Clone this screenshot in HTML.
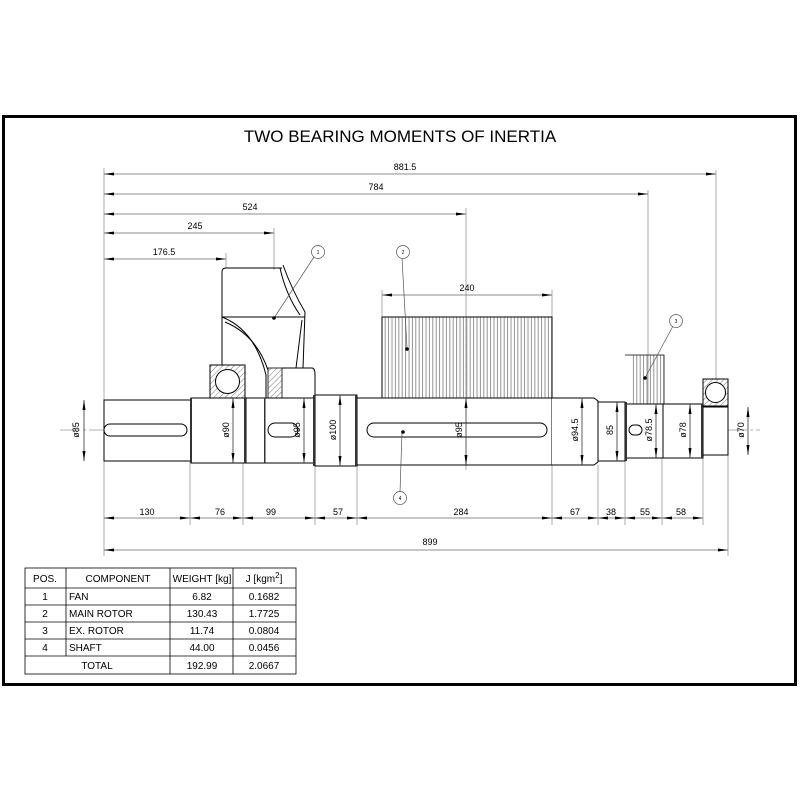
<!DOCTYPE html>
<html><head><meta charset="utf-8"><style>html,body{margin:0;padding:0;background:#fff}svg{display:block}</style></head>
<body>
<svg width="800" height="800" viewBox="0 0 800 800" xmlns="http://www.w3.org/2000/svg" font-family="Liberation Sans, sans-serif">
<defs>
<marker id="a" viewBox="0 0 10 4" refX="10" refY="2" markerWidth="10" markerHeight="4" orient="auto-start-reverse" markerUnits="userSpaceOnUse"><path d="M0,0.5 L10,2 L0,3.5z" fill="#000"/></marker>
<pattern id="vh" width="3.4" height="10" patternUnits="userSpaceOnUse"><line x1="1" y1="0" x2="1" y2="10" stroke="#666" stroke-width="0.7"/></pattern>
<pattern id="dh" width="4" height="4" patternUnits="userSpaceOnUse" patternTransform="rotate(45)"><line x1="0" y1="0" x2="0" y2="4" stroke="#555" stroke-width="0.8"/></pattern>
</defs>
<rect x="3.5" y="116.5" width="792" height="568" fill="none" stroke="#000" stroke-width="3"/>
<text x="400" y="142" font-size="17" text-anchor="middle">TWO BEARING MOMENTS OF INERTIA</text>

<g stroke="#999" stroke-width="0.8" fill="none">
<line x1="104" y1="168" x2="104" y2="556"/>
<line x1="716" y1="170" x2="716" y2="380"/>
<line x1="648" y1="190" x2="648" y2="405"/>
<line x1="466" y1="208" x2="466" y2="470"/>
<line x1="274" y1="228" x2="274" y2="270"/>
<line x1="226" y1="253" x2="226" y2="268"/>
<line x1="382" y1="290" x2="382" y2="317"/>
<line x1="552" y1="290" x2="552" y2="317"/>
<line x1="728" y1="455" x2="728" y2="556"/>
<line x1="190" y1="462" x2="190" y2="525"/><line x1="243" y1="462" x2="243" y2="525"/>
<line x1="315" y1="466" x2="315" y2="525"/><line x1="357" y1="466" x2="357" y2="525"/>
<line x1="552" y1="465" x2="552" y2="525"/><line x1="598" y1="465" x2="598" y2="525"/>
<line x1="625" y1="461" x2="625" y2="525"/><line x1="662" y1="458" x2="662" y2="525"/>
<line x1="703" y1="458" x2="703" y2="525"/>
<line x1="60" y1="430" x2="760" y2="430" stroke-dasharray="20,3,3,3"/>
</g>
<g stroke="#666" stroke-width="0.8" marker-start="url(#a)" marker-end="url(#a)">
<line x1="104" y1="174" x2="716" y2="174"/>
<line x1="104" y1="194" x2="648" y2="194"/>
<line x1="104" y1="214" x2="466" y2="214"/>
<line x1="104" y1="233" x2="274" y2="233"/>
<line x1="104" y1="259" x2="226" y2="259"/>
<line x1="382" y1="295" x2="552" y2="295"/>
<line x1="104" y1="518" x2="190" y2="518"/><line x1="190" y1="518" x2="243" y2="518"/>
<line x1="243" y1="518" x2="315" y2="518"/><line x1="315" y1="518" x2="357" y2="518"/>
<line x1="357" y1="518" x2="552" y2="518"/><line x1="552" y1="518" x2="598" y2="518"/>
<line x1="598" y1="518" x2="625" y2="518"/><line x1="625" y1="518" x2="662" y2="518"/>
<line x1="662" y1="518" x2="703" y2="518"/>
<line x1="104" y1="550" x2="728" y2="550"/>
</g>
<g font-size="9" text-anchor="middle">
<text x="405" y="170">881.5</text><text x="376" y="190">784</text><text x="250" y="210">524</text>
<text x="195" y="229">245</text><text x="164" y="255">176.5</text><text x="467" y="291">240</text>
<text x="147" y="515">130</text><text x="220" y="515">76</text><text x="271" y="515">99</text>
<text x="338" y="515">57</text><text x="461" y="515">284</text><text x="575" y="515">67</text>
<text x="611" y="515">38</text><text x="645" y="515">55</text><text x="681" y="515">58</text>
<text x="430" y="545">899</text>
</g>

<!-- rotors -->
<rect x="382" y="317" width="170" height="81" fill="url(#vh)" stroke="#000" stroke-width="1"/>
<line x1="466" y1="317" x2="466" y2="398" stroke="#999" stroke-width="0.8" stroke-dasharray="6,3"/>
<rect x="632" y="355" width="32" height="49" fill="url(#vh)" stroke="none"/>
<path d="M625,355 H664 V404" fill="none" stroke="#000" stroke-width="0.8"/>

<!-- fan -->
<g fill="none" stroke="#000" stroke-width="1">
<path d="M222,365 V272 Q222,268 226,268 H282"/>
<path d="M283,265 Q292,290 305,312 L303,368"/>
<path d="M280,268 Q286,295 300,315"/>
<path d="M222,317 H305"/>
<path d="M222,317 Q255,330 266,375 V398"/>
<path d="M225,322 Q256,335 268,370"/>
<path d="M296,368 L302,320"/>
<path d="M282,368 H312 Q315,368 315,375 V398"/>
</g>
<rect x="268" y="368" width="14" height="30" fill="url(#dh)" stroke="#000" stroke-width="0.8"/>

<!-- bearings -->
<rect x="210" y="365" width="35" height="33" fill="url(#dh)" stroke="#000" stroke-width="1"/>
<circle cx="227.5" cy="381.5" r="12" fill="#fff" stroke="#000"/>
<rect x="703" y="379" width="25" height="27" fill="url(#dh)" stroke="#000" stroke-width="1"/>
<circle cx="715.5" cy="392.5" r="10" fill="#fff" stroke="#000"/>

<!-- shaft -->
<g fill="#fff" stroke="#000" stroke-width="1">
<rect x="104" y="400" width="87" height="61"/>
<rect x="191" y="398" width="55" height="65"/>
<rect x="246" y="398" width="19" height="65"/>
<rect x="265" y="398" width="50" height="65"/>
<rect x="315" y="395" width="42" height="71"/>
<rect x="357" y="398" width="195" height="67"/>
<path d="M552,398 H594 L598,401 V462 L594,465 H552"/>
<rect x="598" y="402" width="27" height="59"/>
<rect x="625" y="404" width="38" height="54"/>
<rect x="663" y="404" width="40" height="54"/>
<rect x="703" y="407" width="25" height="48"/>
<rect x="104" y="424" width="83" height="12" rx="6"/>
<rect x="268" y="423" width="30" height="14" rx="7"/>
<rect x="367" y="423" width="180" height="14" rx="7"/>
<rect x="629" y="425" width="13" height="10" rx="5"/>
</g>
<g fill="#333">
<rect x="190" y="398" width="2" height="65"/><rect x="244" y="398" width="2" height="65"/>
<rect x="313" y="395" width="2" height="71"/><rect x="355" y="395" width="2" height="71"/>
<rect x="625" y="402" width="2" height="59"/><rect x="701" y="404" width="2" height="54"/>
<rect x="264" y="398" width="1.5" height="65"/>
</g>
<!-- diameter dims -->
<g stroke="#333" stroke-width="0.8" marker-start="url(#a)" marker-end="url(#a)">
<line x1="84" y1="400" x2="84" y2="461"/><line x1="233" y1="398" x2="233" y2="463"/>
<line x1="304" y1="398" x2="304" y2="463"/><line x1="340" y1="395" x2="340" y2="466"/>
<line x1="466" y1="398" x2="466" y2="465"/><line x1="582" y1="398" x2="582" y2="465"/>
<line x1="617" y1="402" x2="617" y2="461"/><line x1="656" y1="404" x2="656" y2="458"/>
<line x1="690" y1="404" x2="690" y2="458"/><line x1="748" y1="407" x2="748" y2="455"/>
</g>
<g font-size="9" text-anchor="middle">
<text transform="translate(79,430) rotate(-90)">ø85</text>
<text transform="translate(229,430) rotate(-90)">ø90</text>
<text transform="translate(300,430) rotate(-90)">ø95</text>
<text transform="translate(336,430) rotate(-90)">ø100</text>
<text transform="translate(462,430) rotate(-90)">ø95</text>
<text transform="translate(578,430) rotate(-90)">ø94.5</text>
<text transform="translate(613,430) rotate(-90)">85</text>
<text transform="translate(652,430) rotate(-90)">ø78.5</text>
<text transform="translate(686,430) rotate(-90)">ø78</text>
<text transform="translate(744,430) rotate(-90)">ø70</text>
</g>

<!-- balloons -->
<g stroke="#555" stroke-width="0.7" fill="none">
<line x1="314" y1="257" x2="274" y2="318"/>
<line x1="402" y1="258" x2="407" y2="348"/>
<line x1="673" y1="326" x2="645" y2="378"/>
<line x1="400" y1="492" x2="402" y2="432"/>
<circle cx="318" cy="252" r="6.5" fill="#fff"/><circle cx="403" cy="252" r="6.5" fill="#fff"/>
<circle cx="676" cy="321" r="6.5" fill="#fff"/><circle cx="400" cy="498" r="6.5" fill="#fff"/>
</g>
<g fill="#000"><circle cx="274" cy="318" r="1.8"/><circle cx="407" cy="349" r="1.8"/><circle cx="645" cy="378" r="1.8"/><circle cx="403" cy="432" r="1.8"/></g>
<g font-size="5" text-anchor="middle"><text x="318" y="254">1</text><text x="403" y="254">2</text><text x="676" y="323">3</text><text x="400" y="500">4</text></g>

<!-- table -->
<g stroke="#000" stroke-width="0.8" fill="none">
<rect x="25" y="568" width="271" height="106"/>
<line x1="25" y1="588" x2="296" y2="588"/><line x1="25" y1="605" x2="296" y2="605"/>
<line x1="25" y1="622" x2="296" y2="622"/><line x1="25" y1="639" x2="296" y2="639"/>
<line x1="25" y1="656" x2="296" y2="656"/>
<line x1="66" y1="568" x2="66" y2="656"/><line x1="170" y1="568" x2="170" y2="674"/><line x1="233" y1="568" x2="233" y2="674"/>
</g>
<g font-size="10" text-anchor="middle">
<text x="45" y="582">POS.</text><text x="118" y="582">COMPONENT</text><text x="202" y="582">WEIGHT [kg]</text><text x="264" y="582">J [kgm<tspan dy="-4" font-size="8">2</tspan><tspan dy="4">]</tspan></text>
<text x="45" y="600">1</text><text x="45" y="617">2</text><text x="45" y="634">3</text><text x="45" y="651">4</text>
<text x="202" y="600">6.82</text><text x="202" y="617">130.43</text><text x="202" y="634">11.74</text><text x="202" y="651">44.00</text><text x="202" y="669">192.99</text>
<text x="264" y="600">0.1682</text><text x="264" y="617">1.7725</text><text x="264" y="634">0.0804</text><text x="264" y="651">0.0456</text><text x="264" y="669">2.0667</text>
<text x="97" y="669">TOTAL</text>
</g>
<g font-size="10"><text x="69" y="600">FAN</text><text x="69" y="617">MAIN ROTOR</text><text x="69" y="634">EX. ROTOR</text><text x="69" y="651">SHAFT</text></g>
</svg>
</body></html>
